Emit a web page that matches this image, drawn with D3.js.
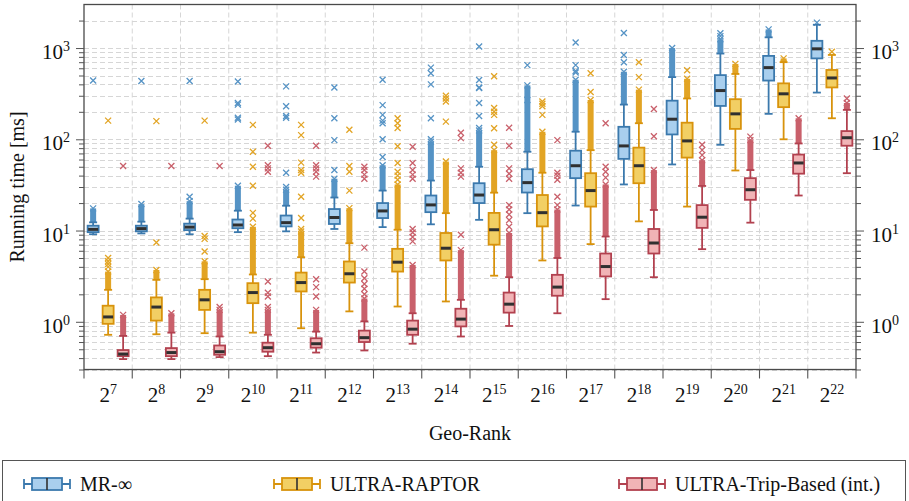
<!DOCTYPE html>
<html>
<head>
<meta charset="utf-8">
<script src="https://cdn.jsdelivr.net/npm/d3@7"></script>
<style>
body { margin: 0; background: #fff; }
svg text { fill: #111; }
</style>
</head>
<body>
<div id="chart"></div>
<script>
// basic dimensions
var width = 909;
var height = 501;
var plot = { left: 84, right: 856, top: 4.5, bottom: 369.5 };

// DATA - exponents of the geo-rank (2^k)
var exponents = [7, 8, 9, 10, 11, 12, 13, 14, 15, 16, 17, 18, 19, 20, 21, 22];
var yTickLabels = [0, 1, 2, 3];

// MR-inf
var mrLow = [9.1, 9.3, 9.1, 9.6, 9.8, 10.4, 10.9, 11.7, 13.1, 15.5, 18.8, 32, 53, 87, 190, 325];
var mrQ1 = [9.6, 9.8, 10.1, 10.6, 11.1, 11.8, 13.7, 15.9, 20, 26.1, 37.5, 61, 113, 232, 440, 770];
var mrMed = [10.3, 10.5, 10.9, 11.5, 12.2, 13.9, 16.4, 19.1, 24.5, 33.5, 51.3, 84.6, 166, 342, 610, 980];
var mrQ3 = [11.3, 11.3, 11.9, 13.2, 14.6, 17.2, 20, 24.2, 33, 47, 75, 137, 265, 505, 820, 1200];
var mrHigh = [12.3, 12.5, 13.5, 16.5, 18.7, 23, 27.4, 35.3, 50, 73, 121, 240, 480, 870, 1310, 1800];
var mrDense = [[12.3, 17.5], [12.5, 19.5], [13.5, 21], [16.5, 31], [18.7, 28], [23, 37], [27.4, 52], [35.3, 94],
    [50, 125], [73, 390], [121, 450], [240, 550], [480, 1000], [870, 1250], [1310, 1600], null];
var mrOutliers = [[440], [435], [23.5, 435], [165, 172, 240, 250, 430], [30, 43, 172, 180, 230, 380],
    [46, 98, 170, 370], [64, 100, 150, 160, 185, 237, 450], [100, 170, 400, 530, 610],
    [133, 180, 250, 365, 370, 447, 1040], [270, 650], [540, 560, 650, 1150], [700, 840, 1460],
    [], [1350, 1450], [], [1900]];

// ULTRA-RAPTOR
var raptorLow = [0.72, 0.73, 0.75, 0.76, 0.85, 1.3, 1.47, 1.67, 3.2, 4.7, 7.1, 12.6, 18.3, 45.5, 100, 170];
var raptorQ1 = [0.95, 1.03, 1.35, 1.6, 2.15, 2.69, 3.55, 4.7, 7.0, 11.1, 18.3, 33, 63, 130, 225, 370];
var raptorMed = [1.13, 1.45, 1.74, 2.09, 2.69, 3.36, 4.5, 6.4, 10.2, 15.7, 27.4, 51.3, 96, 190, 315, 470];
var raptorQ3 = [1.5, 1.85, 2.24, 2.65, 3.46, 4.58, 6.3, 9.4, 15.6, 24.5, 42.5, 81, 152, 275, 410, 575];
var raptorHigh = [2.24, 2.88, 2.93, 3.3, 5.1, 7.26, 10.2, 15.5, 26, 43, 76, 150, 280, 520, 700, 840];
var raptorDense = [[2.24, 3.55], [2.88, 3.7], [2.93, 4.6], [3.3, 11], [5.1, 9.75], [7.26, 17.6], [10.2, 32], [15.5, 57],
    [26, 76], [43, 121], [76, 270], [150, 350], [280, 460], [520, 670], [700, 770], null];
var raptorOutliers = [[4.0, 4.3, 4.6, 5.0, 160], [7.4, 158], [5.9, 8.1, 8.7, 160], [13.5, 15.6, 31, 50, 73, 144],
    [10.4, 13.7, 23.5, 43, 46, 55.5, 111, 144], [27.4, 44, 51, 127], [36, 40, 44, 55, 84, 133, 150, 170],
    [156, 260, 280, 300], [87, 132, 185, 200, 220, 490], [185, 230, 245, 260], [330, 530], [480, 700],
    [570], [], [], [910]];

// ULTRA-Trip-Based (int.)
var tripLow = [0.39, 0.39, 0.41, 0.42, 0.46, 0.485, 0.575, 0.69, 0.9, 1.24, 1.77, 3.08, 6.25, 12.2, 24.2, 42.5];
var tripQ1 = [0.42, 0.42, 0.435, 0.47, 0.52, 0.6, 0.72, 0.89, 1.26, 1.93, 3.14, 5.6, 10.7, 21.7, 42, 85];
var tripMed = [0.443, 0.46, 0.47, 0.52, 0.575, 0.67, 0.83, 1.07, 1.56, 2.4, 4.03, 7.3, 14, 28, 55, 104];
var tripQ3 = [0.49, 0.515, 0.55, 0.59, 0.66, 0.8, 1.03, 1.39, 2.09, 3.27, 5.6, 10.4, 19, 37.5, 68, 123];
var tripHigh = [0.7, 0.76, 0.69, 0.72, 0.78, 1.01, 1.24, 1.74, 3.08, 5.0, 8.6, 16.8, 30.8, 46, 90, 210];
var tripDense = [[0.7, 1.19], [0.76, 1.24], [0.69, 1.35], [0.72, 1.35], [0.78, 1.35], [1.01, 1.8], [1.24, 4.2], [1.74, 6.1],
    [3.08, 9.4], [5.0, 17], [8.6, 32], [16.8, 46], [30.8, 59], [46, 98], [90, 170], [210, 250]];
var tripOutliers = [[51], [51], [1.45, 51], [1.45, 1.89, 2.08, 2.76, 44, 48, 52, 85],
    [1.89, 2.4, 2.93, 39, 44, 48, 52, 85], [2.0, 2.3, 2.6, 3.0, 3.55, 6.5, 37, 41, 46, 50],
    [7.6, 8.5, 9.5, 10.4, 37, 41, 46, 55, 83], [9.0, 39, 43, 48, 103, 118],
    [11, 13, 15, 17, 19, 37, 42, 48, 85, 134], [19, 23.5, 36, 40, 43, 98], [38, 44, 50, 150],
    [108, 215], [67, 76, 87], [107], [], [280]];

var seriesNames = ["MR-\u221e", "ULTRA-RAPTOR", "ULTRA-Trip-Based (int.)"];

// colours: box outline, box fill, outlier marks
var strokeColours = ["#3b79ad", "#d8930c", "#b2414f"];
var fillColours = ["#a9cfee", "#f2cf64", "#f1b4b6"];
var outlierColours = ["#5593c5", "#e2a424", "#c9606b"];

var series = [
    { low: mrLow, q1: mrQ1, med: mrMed, q3: mrQ3, high: mrHigh, dense: mrDense, out: mrOutliers },
    { low: raptorLow, q1: raptorQ1, med: raptorMed, q3: raptorQ3, high: raptorHigh, dense: raptorDense, out: raptorOutliers },
    { low: tripLow, q1: tripQ1, med: tripMed, q3: tripQ3, high: tripHigh, dense: tripDense, out: tripOutliers }
];

// SCALES
var xScale = d3.scaleBand().domain(exponents).range([plot.left, plot.right]);
var yScale = d3.scaleLog().domain([0.3, 3000]).range([plot.bottom, plot.top]);

var svg = d3.select("#chart")
    .append("svg")
    .attr("width", width)
    .attr("height", height)
    .attr("font-family", "'Liberation Serif', 'Times New Roman', Times, serif");

// grid values: every 1..9 x 10^k inside the domain
var gridValues = [];
[-1, 0, 1, 2, 3].forEach(function(k) {
    for (var m = 1; m <= 9; m++) {
        var v = m * Math.pow(10, k);
        if (v > 0.3 && v < 3000) gridValues.push(v);
    }
});

var grid = svg.append("g").attr("class", "grid");
grid.selectAll(".hgrid")
    .data(gridValues)
    .enter()
    .append("line")
    .attr("x1", plot.left)
    .attr("x2", plot.right)
    .attr("y1", function(d) { return Math.round(yScale(d)) + 0.5; })
    .attr("y2", function(d) { return Math.round(yScale(d)) + 0.5; })
    .attr("stroke", "#d6d6d6")
    .attr("stroke-width", 1)
    .attr("stroke-dasharray", "5,3");

grid.selectAll(".vgrid")
    .data(exponents.slice(1))
    .enter()
    .append("line")
    .attr("x1", function(d) { return xScale(d); })
    .attr("x2", function(d) { return xScale(d); })
    .attr("y1", plot.top)
    .attr("y2", plot.bottom)
    .attr("stroke", "#d6d6d6")
    .attr("stroke-width", 1)
    .attr("stroke-dasharray", "5,3");

// cross marker
function cross(cx, cy, r) {
    return "M" + (cx - r) + "," + (cy - r) + "L" + (cx + r) + "," + (cy + r) +
        "M" + (cx - r) + "," + (cy + r) + "L" + (cx + r) + "," + (cy - r);
}

var offsets = [-15, 0, 15];
var boxW = 11;
var capW = 8;

series.forEach(function(s, si) {
    var g = svg.append("g").attr("class", "series-" + si);

    exponents.forEach(function(e, i) {
        var cx = xScale(e) + xScale.bandwidth() / 2 + offsets[si];

        // dense outlier column
        if (s.dense[i]) {
            var top = yScale(s.dense[i][1]);
            var bot = yScale(s.dense[i][0]);
            g.append("rect")
                .attr("x", cx - 3)
                .attr("y", top)
                .attr("width", 6)
                .attr("height", Math.max(0, bot - top))
                .attr("fill", outlierColours[si]);
            g.append("path")
                .attr("d", cross(cx, top, 3))
                .attr("stroke", outlierColours[si])
                .attr("stroke-width", 1.3)
                .attr("fill", "none");
        }

        // single outliers
        s.out[i].forEach(function(v) {
            g.append("path")
                .attr("d", cross(cx, yScale(v), 3))
                .attr("stroke", outlierColours[si])
                .attr("stroke-width", 1.3)
                .attr("fill", "none");
        });

        // whiskers
        var wh = [[s.low[i], s.q1[i]], [s.q3[i], s.high[i]]];
        wh.forEach(function(w) {
            g.append("line")
                .attr("x1", cx).attr("x2", cx)
                .attr("y1", yScale(w[0])).attr("y2", yScale(w[1]))
                .attr("stroke", strokeColours[si])
                .attr("stroke-width", 1.8);
        });
        [s.low[i], s.high[i]].forEach(function(v) {
            g.append("line")
                .attr("x1", cx - capW / 2).attr("x2", cx + capW / 2)
                .attr("y1", yScale(v)).attr("y2", yScale(v))
                .attr("stroke", strokeColours[si])
                .attr("stroke-width", 1.8);
        });

        // box
        g.append("rect")
            .attr("x", cx - boxW / 2)
            .attr("y", yScale(s.q3[i]))
            .attr("width", boxW)
            .attr("height", yScale(s.q1[i]) - yScale(s.q3[i]))
            .attr("fill", fillColours[si])
            .attr("stroke", strokeColours[si])
            .attr("stroke-width", 1.8);

        // median
        g.append("line")
            .attr("x1", cx - boxW / 2 + 0.5).attr("x2", cx + boxW / 2 - 0.5)
            .attr("y1", yScale(s.med[i])).attr("y2", yScale(s.med[i]))
            .attr("stroke", "#303030")
            .attr("stroke-width", 3);
    });
});

// frame
svg.append("rect")
    .attr("x", plot.left)
    .attr("y", plot.top)
    .attr("width", plot.right - plot.left)
    .attr("height", plot.bottom - plot.top)
    .attr("fill", "none")
    .attr("stroke", "#4a4a4a")
    .attr("stroke-width", 1.3);

// AXES
var majorTicks = yTickLabels.map(function(k) { return Math.pow(10, k); });
var minorTicks = gridValues.filter(function(v) { return majorTicks.indexOf(v) < 0; });

function yAxes(axisFn, x) {
    svg.append("g")
        .attr("transform", "translate(" + x + ",0)")
        .call(axisFn(yScale).tickValues(majorTicks).tickSize(8).tickFormat(""))
        .call(function(g) { g.select(".domain").remove(); g.selectAll("line").attr("stroke", "#555"); });
    svg.append("g")
        .attr("transform", "translate(" + x + ",0)")
        .call(axisFn(yScale).tickValues(minorTicks).tickSize(5).tickFormat(""))
        .call(function(g) { g.select(".domain").remove(); g.selectAll("line").attr("stroke", "#555"); });
}
yAxes(d3.axisLeft, plot.left);
yAxes(d3.axisRight, plot.right);

// y tick labels 10^k on both sides
function powLabel(sel, base, exp) {
    sel.append("tspan").text(base);
    sel.append("tspan")
        .attr("dy", -8)
        .style("font-size", "14px")
        .text(exp);
}

yTickLabels.forEach(function(k) {
    var yy = yScale(Math.pow(10, k)) + 11;
    svg.append("text")
        .attr("x", 70)
        .attr("y", yy)
        .attr("text-anchor", "end")
        .style("font-size", "21px")
        .call(powLabel, "10", k);
    svg.append("text")
        .attr("x", 871)
        .attr("y", yy)
        .style("font-size", "21px")
        .call(powLabel, "10", k);
});

// x ticks at the group borders
var borders = exponents.map(function(e) { return xScale(e); }).concat([plot.right]);
svg.selectAll(".xtick")
    .data(borders)
    .enter()
    .append("line")
    .attr("x1", function(d) { return d; })
    .attr("x2", function(d) { return d; })
    .attr("y1", plot.bottom)
    .attr("y2", plot.bottom + 9)
    .attr("stroke", "#555")
    .attr("stroke-width", 1.1);

exponents.forEach(function(e) {
    svg.append("text")
        .attr("x", xScale(e) + xScale.bandwidth() / 2)
        .attr("y", 402)
        .attr("text-anchor", "middle")
        .style("font-size", "21px")
        .call(powLabel, "2", e);
});

// axis titles
svg.append("text")
    .attr("x", 470)
    .attr("y", 440)
    .attr("text-anchor", "middle")
    .style("font-size", "20px")
    .text("Geo-Rank");

svg.append("text")
    .attr("transform", "translate(24,187) rotate(-90)")
    .attr("text-anchor", "middle")
    .style("font-size", "20px")
    .text("Running time [ms]");

// LEGEND
svg.append("rect")
    .attr("x", 2.5)
    .attr("y", 460.5)
    .attr("width", 903)
    .attr("height", 50)
    .attr("fill", "#fff")
    .attr("stroke", "#555")
    .attr("stroke-width", 1);

var legendX = [24, 274, 619];
var ly = 484;
seriesNames.forEach(function(name, si) {
    var lx = legendX[si];
    var lg = svg.append("g");
    lg.append("line")
        .attr("x1", lx).attr("x2", lx + 46)
        .attr("y1", ly).attr("y2", ly)
        .attr("stroke", strokeColours[si]).attr("stroke-width", 1.8);
    [lx, lx + 46].forEach(function(cx) {
        lg.append("line")
            .attr("x1", cx).attr("x2", cx)
            .attr("y1", ly - 5).attr("y2", ly + 5)
            .attr("stroke", strokeColours[si]).attr("stroke-width", 1.8);
    });
    lg.append("rect")
        .attr("x", lx + 8)
        .attr("y", ly - 6)
        .attr("width", 30)
        .attr("height", 12)
        .attr("fill", fillColours[si])
        .attr("stroke", strokeColours[si])
        .attr("stroke-width", 1.8);
    lg.append("line")
        .attr("x1", lx + 23).attr("x2", lx + 23)
        .attr("y1", ly - 6).attr("y2", ly + 6)
        .attr("stroke", "#303030").attr("stroke-width", 1.6);
    lg.append("text")
        .attr("x", lx + 56)
        .attr("y", ly + 7)
        .style("font-size", "20px")
        .text(name);
});
</script>
</body>
</html>
